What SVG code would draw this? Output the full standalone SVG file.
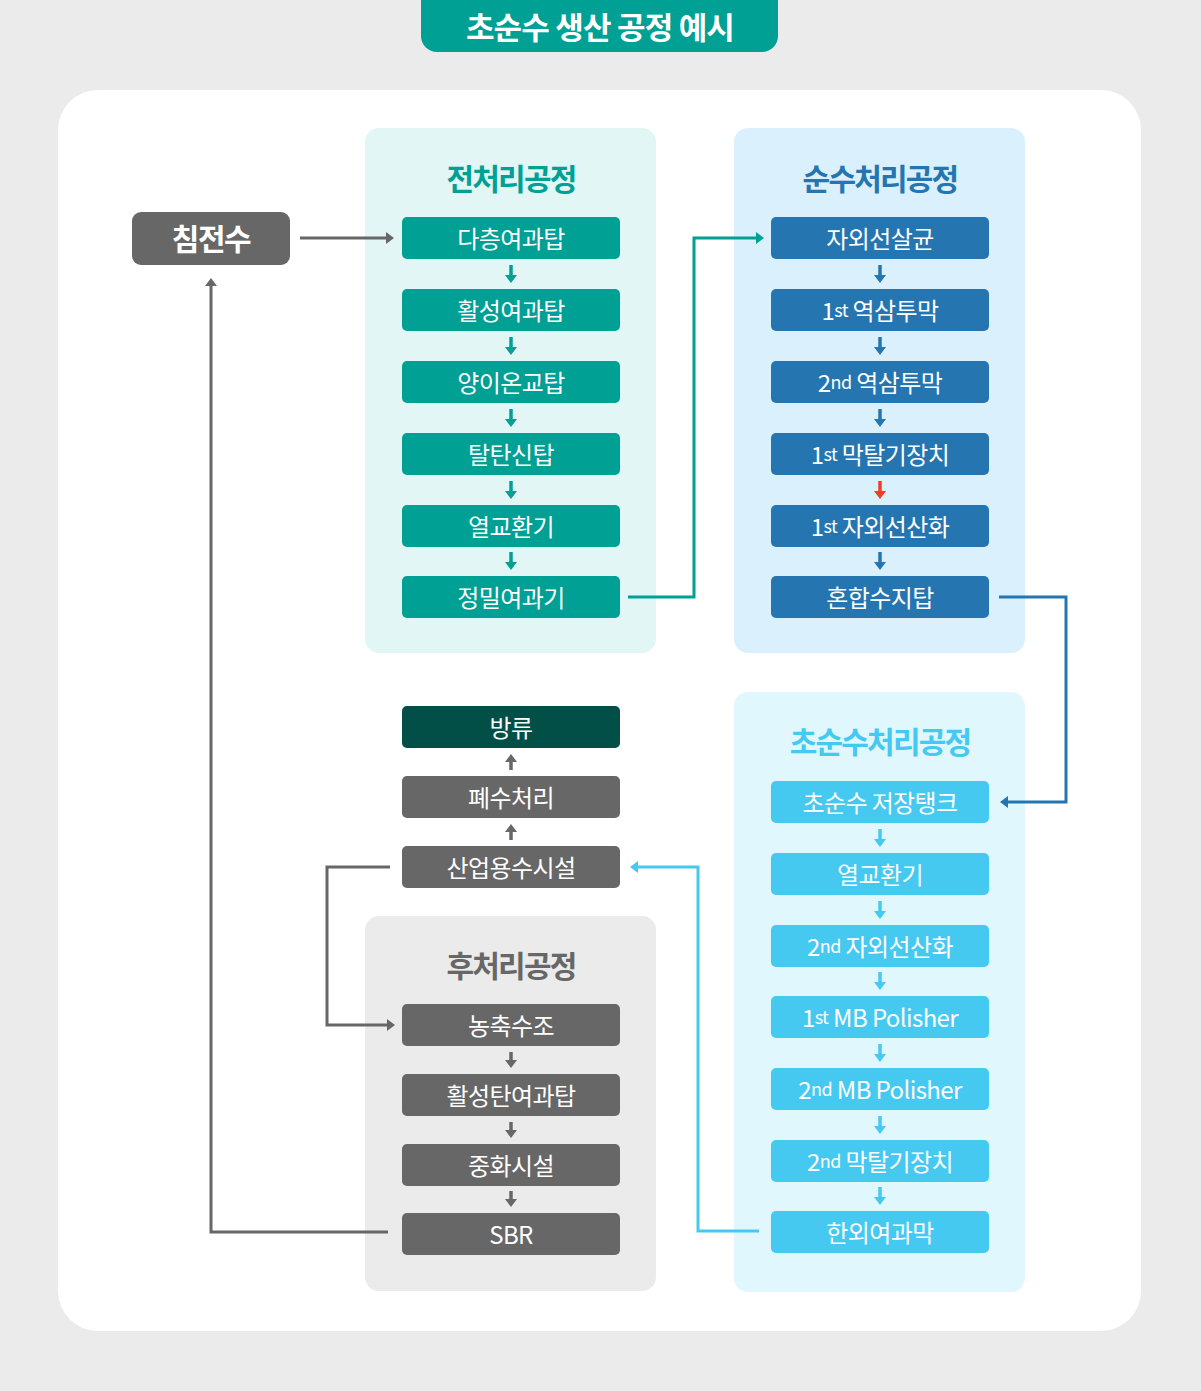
<svg xmlns="http://www.w3.org/2000/svg" width="1201" height="1391" viewBox="0 0 1201 1391">
<style>
text{font-family:"Noto Sans CJK KR","Noto Sans",sans-serif;text-anchor:middle;dominant-baseline:central}
.bt{fill:#fff;font-size:24px;letter-spacing:-0.6px}
.sm{font-size:18px}
.pt{font-size:30px;font-weight:700;letter-spacing:-1.8px}
.b1{fill:#00a094}.b2{fill:#2576b0}.b3{fill:#46c9f1}.bg{fill:#666766}.bd{fill:#024f47}
.c{fill:none;stroke-width:3}
.sa{fill:none;stroke-width:3.5}
</style>
<defs>
<marker id="mg" viewBox="0 0 10 10" preserveAspectRatio="none" refX="5" refY="5" markerWidth="8" markerHeight="12" markerUnits="userSpaceOnUse" orient="auto"><path d="M0,0L10,5L0,10z" fill="#666766"/></marker>
<marker id="mt" viewBox="0 0 10 10" preserveAspectRatio="none" refX="5" refY="5" markerWidth="8" markerHeight="12" markerUnits="userSpaceOnUse" orient="auto"><path d="M0,0L10,5L0,10z" fill="#00a094"/></marker>
<marker id="mb" viewBox="0 0 10 10" preserveAspectRatio="none" refX="5" refY="5" markerWidth="8" markerHeight="12" markerUnits="userSpaceOnUse" orient="auto"><path d="M0,0L10,5L0,10z" fill="#2576b0"/></marker>
<marker id="ml" viewBox="0 0 10 10" preserveAspectRatio="none" refX="5" refY="5" markerWidth="8" markerHeight="12" markerUnits="userSpaceOnUse" orient="auto"><path d="M0,0L10,5L0,10z" fill="#46c9f1"/></marker>
<marker id="mr" viewBox="0 0 10 10" preserveAspectRatio="none" refX="5" refY="5" markerWidth="8" markerHeight="12" markerUnits="userSpaceOnUse" orient="auto"><path d="M0,0L10,5L0,10z" fill="#f03c24"/></marker>
</defs>
<rect width="1201" height="1391" fill="#ebebeb"/>
<g id="title">
<path d="M421,0H778V36a16,16 0 0 1 -16,16H437a16,16 0 0 1 -16,-16z" fill="#00a094"/>
<text x="600" y="25" fill="#fff" font-size="31" font-weight="700" letter-spacing="-0.8">초순수 생산 공정 예시</text>
</g>
<rect x="58" y="90" width="1083" height="1241" rx="40" fill="#fff"/>
<g id="panel-pre"><rect x="365" y="128" width="291" height="525" rx="14" fill="#e2f7f5"/><text class="pt" x="511" y="177" fill="#00a094">전처리공정</text></g>
<g id="panel-pure"><rect x="734" y="128" width="291" height="525" rx="14" fill="#dbf0fd"/><text class="pt" x="880" y="177" fill="#2576b0">순수처리공정</text></g>
<g id="panel-ultra"><rect x="734" y="692" width="291" height="600" rx="14" fill="#e0f7fe"/><text class="pt" x="880" y="740" fill="#46c9f1">초순수처리공정</text></g>
<g id="panel-post"><rect x="365" y="916" width="291" height="375" rx="14" fill="#ebebeb"/><text class="pt" x="511" y="964" fill="#666766">후처리공정</text></g>

<g id="n-raw"><rect x="132" y="212" width="158" height="53" rx="9" class="bg"/><text x="211" y="237" fill="#fff" font-size="30" font-weight="700" letter-spacing="-1.5">침전수</text></g>

<g id="n-p1"><rect x="402" y="217" width="218" height="42" rx="5" class="b1"/><text class="bt" x="511" y="237">다층여과탑</text></g>
<g id="n-p2"><rect x="402" y="289" width="218" height="42" rx="5" class="b1"/><text class="bt" x="511" y="309">활성여과탑</text></g>
<g id="n-p3"><rect x="402" y="361" width="218" height="42" rx="5" class="b1"/><text class="bt" x="511" y="381">양이온교탑</text></g>
<g id="n-p4"><rect x="402" y="433" width="218" height="42" rx="5" class="b1"/><text class="bt" x="511" y="453">탈탄신탑</text></g>
<g id="n-p5"><rect x="402" y="505" width="218" height="42" rx="5" class="b1"/><text class="bt" x="511" y="525">열교환기</text></g>
<g id="n-p6"><rect x="402" y="576" width="218" height="42" rx="5" class="b1"/><text class="bt" x="511" y="596">정밀여과기</text></g>

<g id="n-q1"><rect x="771" y="217" width="218" height="42" rx="5" class="b2"/><text class="bt" x="880" y="237">자외선살균</text></g>
<g id="n-q2"><rect x="771" y="289" width="218" height="42" rx="5" class="b2"/><text class="bt" x="880" y="309">1<tspan class="sm">st</tspan> 역삼투막</text></g>
<g id="n-q3"><rect x="771" y="361" width="218" height="42" rx="5" class="b2"/><text class="bt" x="880" y="381">2<tspan class="sm">nd</tspan> 역삼투막</text></g>
<g id="n-q4"><rect x="771" y="433" width="218" height="42" rx="5" class="b2"/><text class="bt" x="880" y="453">1<tspan class="sm">st</tspan> 막탈기장치</text></g>
<g id="n-q5"><rect x="771" y="505" width="218" height="42" rx="5" class="b2"/><text class="bt" x="880" y="525">1<tspan class="sm">st</tspan> 자외선산화</text></g>
<g id="n-q6"><rect x="771" y="576" width="218" height="42" rx="5" class="b2"/><text class="bt" x="880" y="596">혼합수지탑</text></g>

<g id="n-u1"><rect x="771" y="781" width="218" height="42" rx="5" class="b3"/><text class="bt" x="880" y="801">초순수 저장탱크</text></g>
<g id="n-u2"><rect x="771" y="853" width="218" height="42" rx="5" class="b3"/><text class="bt" x="880" y="873">열교환기</text></g>
<g id="n-u3"><rect x="771" y="925" width="218" height="42" rx="5" class="b3"/><text class="bt" x="880" y="945">2<tspan class="sm">nd</tspan> 자외선산화</text></g>
<g id="n-u4"><rect x="771" y="996" width="218" height="42" rx="5" class="b3"/><text class="bt" x="880" y="1016">1<tspan class="sm">st</tspan> MB Polisher</text></g>
<g id="n-u5"><rect x="771" y="1068" width="218" height="42" rx="5" class="b3"/><text class="bt" x="880" y="1088">2<tspan class="sm">nd</tspan> MB Polisher</text></g>
<g id="n-u6"><rect x="771" y="1140" width="218" height="42" rx="5" class="b3"/><text class="bt" x="880" y="1160">2<tspan class="sm">nd</tspan> 막탈기장치</text></g>
<g id="n-u7"><rect x="771" y="1211" width="218" height="42" rx="5" class="b3"/><text class="bt" x="880" y="1231">한외여과막</text></g>

<g id="n-d1"><rect x="402" y="706" width="218" height="42" rx="5" class="bd"/><text class="bt" x="511" y="726">방류</text></g>
<g id="n-d2"><rect x="402" y="776" width="218" height="42" rx="5" class="bg"/><text class="bt" x="511" y="796">폐수처리</text></g>
<g id="n-d3"><rect x="402" y="846" width="218" height="42" rx="5" class="bg"/><text class="bt" x="511" y="866">산업용수시설</text></g>

<g id="n-w1"><rect x="402" y="1004" width="218" height="42" rx="5" class="bg"/><text class="bt" x="511" y="1024">농축수조</text></g>
<g id="n-w2"><rect x="402" y="1074" width="218" height="42" rx="5" class="bg"/><text class="bt" x="511" y="1094">활성탄여과탑</text></g>
<g id="n-w3"><rect x="402" y="1144" width="218" height="42" rx="5" class="bg"/><text class="bt" x="511" y="1164">중화시설</text></g>
<g id="n-w4"><rect x="402" y="1213" width="218" height="42" rx="5" class="bg"/><text class="bt" x="511" y="1233">SBR</text></g>

<g id="connectors">
<path class="c" stroke="#666766" d="M300,238H390" marker-end="url(#mg)"/>
<path class="c" stroke="#00a094" d="M628,597H694V238H760" marker-end="url(#mt)"/>
<path class="c" stroke="#2576b0" d="M999,597H1066V802H1004" marker-end="url(#mb)"/>
<path class="c" stroke="#46c9f1" d="M759,1231H698V867H634" marker-end="url(#ml)"/>
<path class="c" stroke="#666766" d="M390,867H327V1025H391" marker-end="url(#mg)"/>
<path class="c" stroke="#666766" d="M388,1232H211V282" marker-end="url(#mg)"/>

<g stroke="#00a094" class="sa" marker-end="url(#mt)">
<path d="M511,265V279"/><path d="M511,337V351"/><path d="M511,409V423"/><path d="M511,481V495"/><path d="M511,552V566"/>
</g>
<g stroke="#2576b0" class="sa" marker-end="url(#mb)">
<path d="M880,265V279"/><path d="M880,337V351"/><path d="M880,409V423"/><path d="M880,552V566"/>
</g>
<path class="sa" stroke="#f03c24" d="M880,481V495" marker-end="url(#mr)"/>
<g stroke="#46c9f1" class="sa" marker-end="url(#ml)">
<path d="M880,829V843"/><path d="M880,901V915"/><path d="M880,972V986"/><path d="M880,1044V1058"/><path d="M880,1116V1130"/><path d="M880,1187V1201"/>
</g>
<g stroke="#666766" class="sa" marker-end="url(#mg)">
<path d="M511,1052V1064"/><path d="M511,1122V1134"/><path d="M511,1191V1203"/>
<path d="M511,770V758"/><path d="M511,840V828"/>
</g>
</g>
</svg>
